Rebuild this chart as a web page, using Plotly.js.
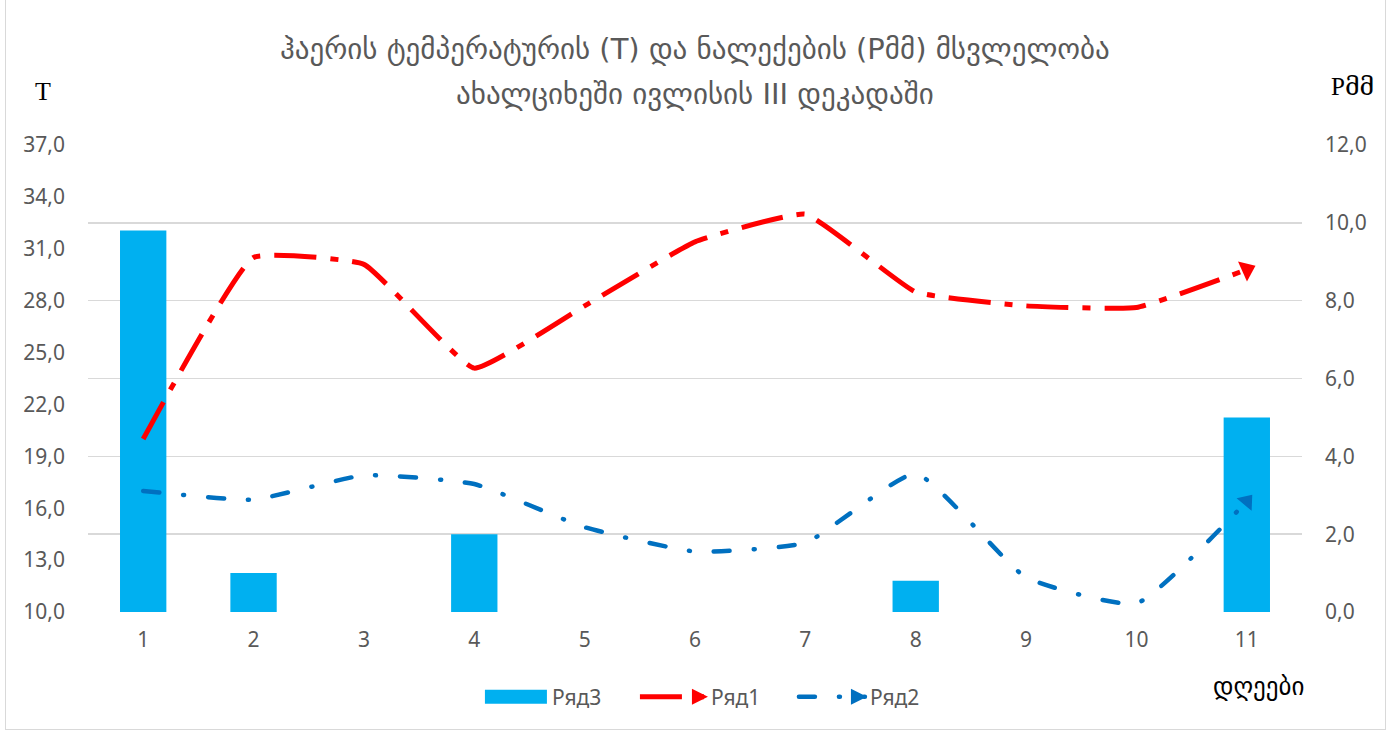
<!DOCTYPE html>
<html><head><meta charset="utf-8">
<script src="https://cdn.plot.ly/plotly-3.0.1.min.js"></script>
<style>
html,body{margin:0;padding:0;background:#fff;}
#wrap{position:absolute;left:5px;top:0;width:1379px;height:729px;border:1px solid #d9d9d9;border-top:none;}
#chart{position:absolute;left:0;top:0;width:1391px;height:731px;}
</style></head>
<body><div id="wrap"></div><div id="chart"></div>
<script>
const days = ['1','2','3','4','5','6','7','8','9','10','11'];
const ryad1 = [20.0, 30.5, 30.1, 24.1, 27.7, 31.4, 33.0, 28.5, 27.7, 27.6, 29.8];
const ryad2 = [17.0, 16.5, 17.9, 17.4, 14.9, 13.5, 14.0, 18.0, 12.0, 10.5, 16.4];
const ryad3 = [9.8, 1.0, 0, 2.0, 0, 0, 0, 0.8, 0, 0, 5.0];
const titleLines = ['ჰაერის ტემპერატურის (T) და ნალექების (Pმმ) მსვლელობა', 'ახალციხეში ივლისის III დეკადაში'];

const tickFont = {family: 'Noto Sans, Liberation Sans, sans-serif', size: 21, color: '#595959'};
const geoFont = 'DejaVu Sans, DejaVu Serif, sans-serif';
const RED = '#FF0000', BLUE = '#0070C0';

const W = 1391, H = 731, M = {l:88, r:89, t:145, b:119};
const TRANGE = [10, 37];

// arrowhead at the last point of a series; rotation follows the last segment on screen
function arrowAngle(ser) {
  const n = ser.length;
  const pxPerCat = (W - M.l - M.r) / days.length;
  const pxPerUnit = (H - M.t - M.b) / (TRANGE[1] - TRANGE[0]);
  const dx = pxPerCat, dy = -(ser[n-1] - ser[n-2]) * pxPerUnit * 1.3;
  return Math.atan2(dy, dx) * 180 / Math.PI;
}
function arrowTrace(ser, col, size) {
  return {type:'scatter', mode:'markers', x:[days[days.length-1]], y:[ser[ser.length-1]], yaxis:'y2',
          showlegend:false, hoverinfo:'skip',
          marker:{symbol:'triangle-right', size:size, color:col, angle:arrowAngle(ser), line:{width:0}}};
}

const traces = [
  {type:'bar', name:'Ряд3', x:days, y:ryad3, yaxis:'y', width:0.42,
   marker:{color:'#00B0F0'}},
  {type:'scatter', mode:'lines', name:'Ряд1', x:days, y:ryad1, yaxis:'y2',
   line:{color:RED, width:5, dash:'42px,14px,8px,14px', shape:'spline', smoothing:0.35}},
  {type:'scatter', mode:'lines', name:'Ряд2', x:days, y:ryad2, yaxis:'y2',
   line:{color:BLUE, width:4.5, dash:'16px,24px,1px,24px', shape:'spline', smoothing:0.45}},
  arrowTrace(ryad1, RED, 19),
  arrowTrace(ryad2, BLUE, 17)
];

const layout = {
  width:W, height:H,
  paper_bgcolor:'rgba(0,0,0,0)', plot_bgcolor:'rgba(0,0,0,0)',
  margin:M,
  separators:',.',
  xaxis:{type:'category', range:[-0.5, 10.5], tickfont:tickFont, showgrid:false, zeroline:false, showline:false,
         ticks:'', automargin:false, ticklabelstandoff:13},
  yaxis:{range:[0,12], dtick:2, tickformat:'.1f', tickfont:tickFont, side:'right',
         gridcolor:'#d9d9d9', gridwidth:1.5, zeroline:false, showline:false, ticks:'', automargin:false,
         ticklabelstandoff:22},
  yaxis2:{range:TRANGE, dtick:3, tick0:10, tickformat:'.1f', tickfont:tickFont, overlaying:'y', side:'left',
          showgrid:false, zeroline:false, showline:false, ticks:'', automargin:false, ticklabelstandoff:22},
  bargap:0.58,
  showlegend:true,
  legend:{orientation:'h', x:0.516, xanchor:'center', y:-0.182, yanchor:'middle',
          font:tickFont, traceorder:'normal', itemwidth:66, entrywidth:78},
  annotations:[
    {text:titleLines[0], xref:'paper', yref:'paper', x:0.5, y:1.205, xanchor:'center', yanchor:'middle', showarrow:false,
     font:{family:geoFont, size:29, color:'#595959'}},
    {text:titleLines[1], xref:'paper', yref:'paper', x:0.5, y:1.11, xanchor:'center', yanchor:'middle', showarrow:false,
     font:{family:geoFont, size:29, color:'#595959'}},
    {text:'T', xref:'paper', yref:'paper', x:-0.037, y:1.115, xanchor:'center', yanchor:'middle', showarrow:false,
     font:{family:'Liberation Serif, serif', size:26, color:'#000'}},
    {text:'Pმმ', xref:'paper', yref:'paper', x:1.042, y:1.125, xanchor:'center', yanchor:'middle', showarrow:false,
     font:{family:'Liberation Serif, DejaVu Serif, serif', size:25, color:'#000'}},
    {text:'დღეები', xref:'paper', yref:'paper', x:0.964, y:-0.16, xanchor:'center', yanchor:'middle', showarrow:false,
     font:{family:geoFont, size:25, color:'#000'}}
  ]
};

Plotly.newPlot('chart', traces, layout, {displayModeBar:false, staticPlot:true}).then(() => {
  try {
    const SVGNS = 'http://www.w3.org/2000/svg';
    const tr = document.querySelectorAll('.scatterlayer .trace');
    if (tr[1]) tr[1].querySelectorAll('path.js-line').forEach(p => p.style.strokeLinecap = 'round');
    const lg = document.querySelectorAll('.legend .traces');
    if (lg[0]) lg[0].querySelectorAll('.legendpoints path').forEach(p => p.setAttribute('d', 'M-29,7H33V-7H-29Z'));
    [[1, RED], [2, BLUE]].forEach(([i, col]) => {
      if (!lg[i]) return;
      const line = lg[i].querySelector('.legendlines path');
      if (!line) return;
      if (i === 2) line.style.strokeLinecap = 'round';
      const bb = line.getBBox();
      const xe = bb.x + bb.width, yc = bb.y + bb.height / 2;
      const tri = document.createElementNS(SVGNS, 'path');
      tri.setAttribute('d', `M${xe-14},${yc-8}L${xe+2},${yc}L${xe-14},${yc+8}Z`);
      tri.setAttribute('fill', col);
      line.parentNode.appendChild(tri);
    });
  } catch (e) {}
});
</script></body></html>
